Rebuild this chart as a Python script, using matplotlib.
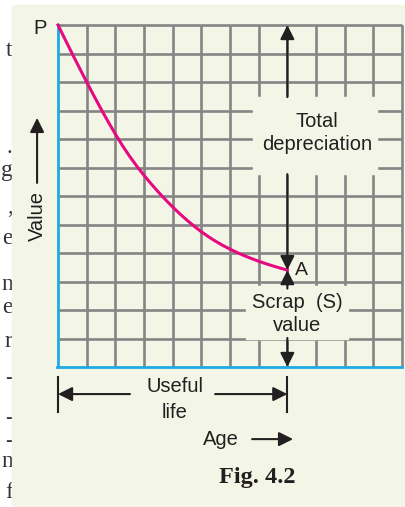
import matplotlib.pyplot as plt
from matplotlib.patches import Rectangle

# value curve (age in cells, value in cells)
age = [0, 0.25, 0.5, 0.75, 1, 1.25, 1.5, 1.75, 2, 2.25, 2.5, 2.75, 3,
       3.25, 3.5, 3.75, 4, 4.25, 4.5, 4.75, 5, 5.25, 5.5, 5.75, 6,
       6.25, 6.5, 6.75, 7, 7.25, 7.5, 7.75, 8]
value = [12, 11.49, 10.985, 10.49, 10.0, 9.52, 9.055, 8.605, 8.175, 7.765,
         7.39, 7.045, 6.725, 6.425, 6.14, 5.87, 5.615, 5.375, 5.15, 4.94,
         4.745, 4.57, 4.41, 4.265, 4.135, 4.015, 3.905, 3.805, 3.71, 3.625,
         3.545, 3.47, 3.4]
n_cells = 12
useful_life = 8
scrap = 3.4
start_value = 12

# cut-off letters of the page text at the left edge
edge_chars = ['t', '.', 'g', ',', 'e', 'n', 'e', 'r', '-', '-', '-', 'n', 'f']
edge_rows = [11.1, 7.7, 6.9, 5.6, 4.5, 2.9, 2.1, 0.9, -0.4, -1.8, -2.6, -3.3, -4.4]

bg = '#f3f6e6'
grey = '#858585'
blue = '#1eaae2'
pink = '#e6097f'
ink = '#231f20'
sans = 'Liberation Sans'

fig = plt.figure(figsize=(4.06, 5.07), dpi=100)
ax = fig.add_axes([0, 0, 1, 1])
ax.set_xlim(-58 / 28.67, 348 / 28.67)
ax.set_ylim(-140 / 28.5, 367 / 28.5)
ax.axis('off')

for ch, yy in zip(edge_chars, edge_rows):
    ax.text(-1.58, yy, ch, ha='right', va='center', fontsize=17,
            family='Liberation Serif', color='#333333', zorder=0.2)
ax.add_patch(Rectangle((-1.6, -5), 15, 17.7, color=bg, zorder=0.5))

# grid
for k in range(1, n_cells + 1):
    ax.plot([k, k], [0, n_cells], color=grey, lw=1.9, zorder=1,
            solid_capstyle='butt')
    ax.plot([0, n_cells], [k, k], color=grey, lw=1.9, zorder=1,
            solid_capstyle='butt')

# gaps in the grid behind the labels
ax.add_patch(Rectangle((6.8, 6.77), 4.33, 2.7, color=bg, zorder=1.5))
ax.add_patch(Rectangle((6.55, 0.98), 3.55, 1.87, color=bg, zorder=1.5))

ax.plot([0, 0], [0, n_cells], color=blue, lw=2, zorder=2)
ax.plot([-0.02, n_cells], [0, 0], color=blue, lw=2, zorder=2)

ax.plot(age, value, color=pink, lw=2.2, zorder=3, solid_joinstyle='round')


def arrow(x0, y0, x1, y1):
    ax.annotate('', xy=(x1, y1), xytext=(x0, y0),
                arrowprops=dict(arrowstyle='-|>,head_length=0.5,head_width=0.25',
                                color=ink, lw=1.5, mutation_scale=17,
                                shrinkA=0, shrinkB=0), zorder=4)


arrow(useful_life, 9.47, useful_life, start_value)
arrow(useful_life, 6.77, useful_life, scrap)
arrow(useful_life, 2.75, useful_life, scrap)
arrow(useful_life, 1.02, useful_life, 0)

tf = dict(fontsize=14.5, family=sans, color=ink, ha='center', va='center')
ax.text(-0.63, 11.86, 'P', **tf)
ax.text(8.27, scrap, 'A', fontsize=14, family=sans, color=ink,
        ha='left', va='center')
ax.text(9.03, 8.6, 'Total', **tf)
ax.text(9.03, 7.79, 'depreciation', **tf)
ax.text(8.34, 2.25, 'Scrap  (S)', **tf)
ax.text(8.34, 1.47, 'value', **tf)
ax.text(-0.73, 5.3, 'Value', rotation=90, **tf)
arrow(-0.73, 6.46, -0.73, 8.74)

# useful life span below the grid
for xx in [0, useful_life]:
    ax.plot([xx, xx], [-0.35, -1.58], color=ink, lw=1.5, zorder=4)
arrow(2.51, -0.95, 0, -0.95)
arrow(5.48, -0.95, useful_life, -0.95)
ax.text(4.08, -0.7, 'Useful', **tf)
ax.text(4.08, -1.58, 'life', **tf)
ax.text(5.69, -2.53, 'Age', **tf)
arrow(6.77, -2.53, 8.2, -2.53)
ax.text(6.94, -3.89, 'Fig. 4.2', fontsize=17.5, family='Liberation Serif',
        weight='bold', color=ink, ha='center', va='center')

fig.savefig('out.png', dpi=100, facecolor='white')
